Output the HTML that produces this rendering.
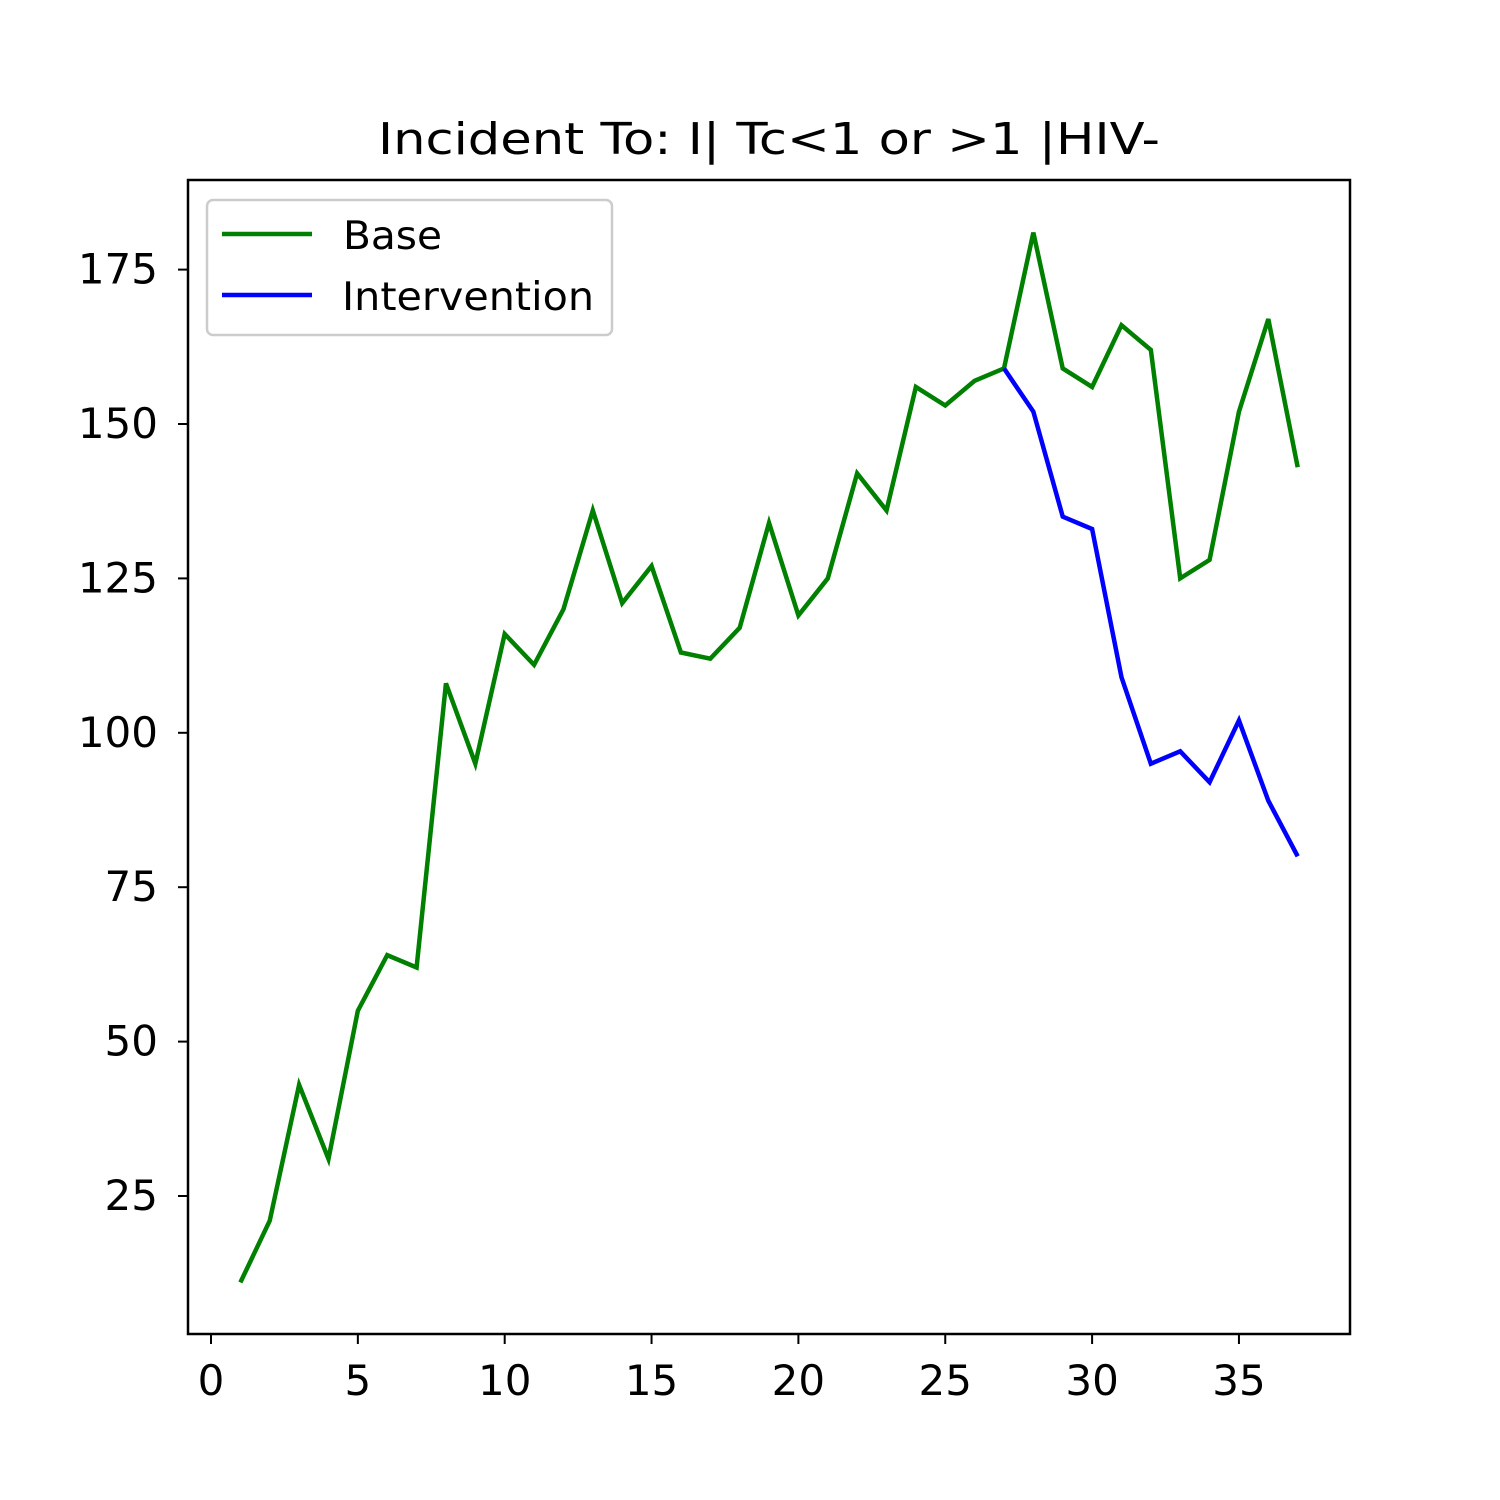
<!DOCTYPE html>
<html><head><meta charset="utf-8"><style>body{margin:0;background:#fff}svg{display:block}text{font-family:"DejaVu Sans","Liberation Sans",sans-serif;fill:#000}</style></head>
<body>
<svg id="chart" width="1500" height="1500" viewBox="0 0 1500 1500" xmlns="http://www.w3.org/2000/svg">
<rect width="1500" height="1500" fill="#fff"/>
<text x="378" y="154" font-size="44" textLength="782" lengthAdjust="spacingAndGlyphs">Incident To: I| Tc&lt;1 or &gt;1 |HIV-</text>
<g id="axes"></g>
<g id="series"></g>
<rect x="188" y="180" width="1162" height="1154" fill="none" stroke="#000" stroke-width="2.5"/>
<g>
<rect x="207" y="200" width="405" height="135" rx="6" fill="#fff" stroke="#ccc" stroke-width="2.5"/>
<line x1="222" y1="234" x2="312" y2="234" stroke="#008000" stroke-width="4.5"/>
<text x="343" y="249" font-size="39" textLength="99" lengthAdjust="spacingAndGlyphs">Base</text>
<line x1="222" y1="295" x2="312" y2="295" stroke="#0000ff" stroke-width="4.5"/>
<text x="342" y="310" font-size="39" textLength="252" lengthAdjust="spacingAndGlyphs">Intervention</text>
</g>
</svg>
<script>
const baseX = [1,2,3,4,5,6,7,8,9,10,11,12,13,14,15,16,17,18,19,20,21,22,23,24,25,26,27,28,29,30,31,32,33,34,35,36,37];
const baseValues = [11,21,43,31,55,64,62,108,95,116,111,120,136,121,127,113,112,117,134,119,125,142,136,156,153,157,159,181,159,156,166,162,125,128,152,167,143];
const interventionX = [27,28,29,30,31,32,33,34,35,36,37];
const interventionValues = [159,152,135,133,109,95,97,92,102,89,80];
const xTicks = [0,5,10,15,20,25,30,35];
const yTicks = [25,50,75,100,125,150,175];
const NS = "http://www.w3.org/2000/svg";
function xs(v){return 211 + v*29.37;}
function ys(v){return 1350.4 - v*6.176;}
const axes = document.getElementById('axes');
xTicks.forEach(t=>{
  const l=document.createElementNS(NS,'line');
  l.setAttribute('x1',xs(t));l.setAttribute('x2',xs(t));l.setAttribute('y1',1334);l.setAttribute('y2',1344);
  l.setAttribute('stroke','#000');l.setAttribute('stroke-width','2');
  
  
  axes.appendChild(l);
  const tx=document.createElementNS(NS,'text');
  tx.setAttribute('x',xs(t));tx.setAttribute('y',1395);tx.setAttribute('font-size','42');tx.setAttribute('text-anchor','middle');
  tx.textContent=t;
  
  
  axes.appendChild(tx);
});
yTicks.forEach(t=>{
  const l=document.createElementNS(NS,'line');
  l.setAttribute('x1',178);l.setAttribute('x2',188);l.setAttribute('y1',ys(t));l.setAttribute('y2',ys(t));
  l.setAttribute('stroke','#000');l.setAttribute('stroke-width','2');
  
  
  axes.appendChild(l);
  const tx=document.createElementNS(NS,'text');
  tx.setAttribute('x',158);tx.setAttribute('y',ys(t)+14);tx.setAttribute('font-size','42');tx.setAttribute('text-anchor','end');
  tx.textContent=t;
  
  
  axes.appendChild(tx);
});
const series = document.getElementById('series');
function drawLine(xv, yv, color, name){
  const p=document.createElementNS(NS,'polyline');
  p.setAttribute('points', xv.map((x,i)=>xs(x)+','+ys(yv[i])).join(' '));
  p.setAttribute('fill','none');p.setAttribute('stroke',color);p.setAttribute('stroke-width','4.5');
  
  
  series.appendChild(p);
}
drawLine(baseX, baseValues, '#008000', 'base-line');
drawLine(interventionX, interventionValues, '#0000ff', 'intervention-line');
</script>
</body></html>
